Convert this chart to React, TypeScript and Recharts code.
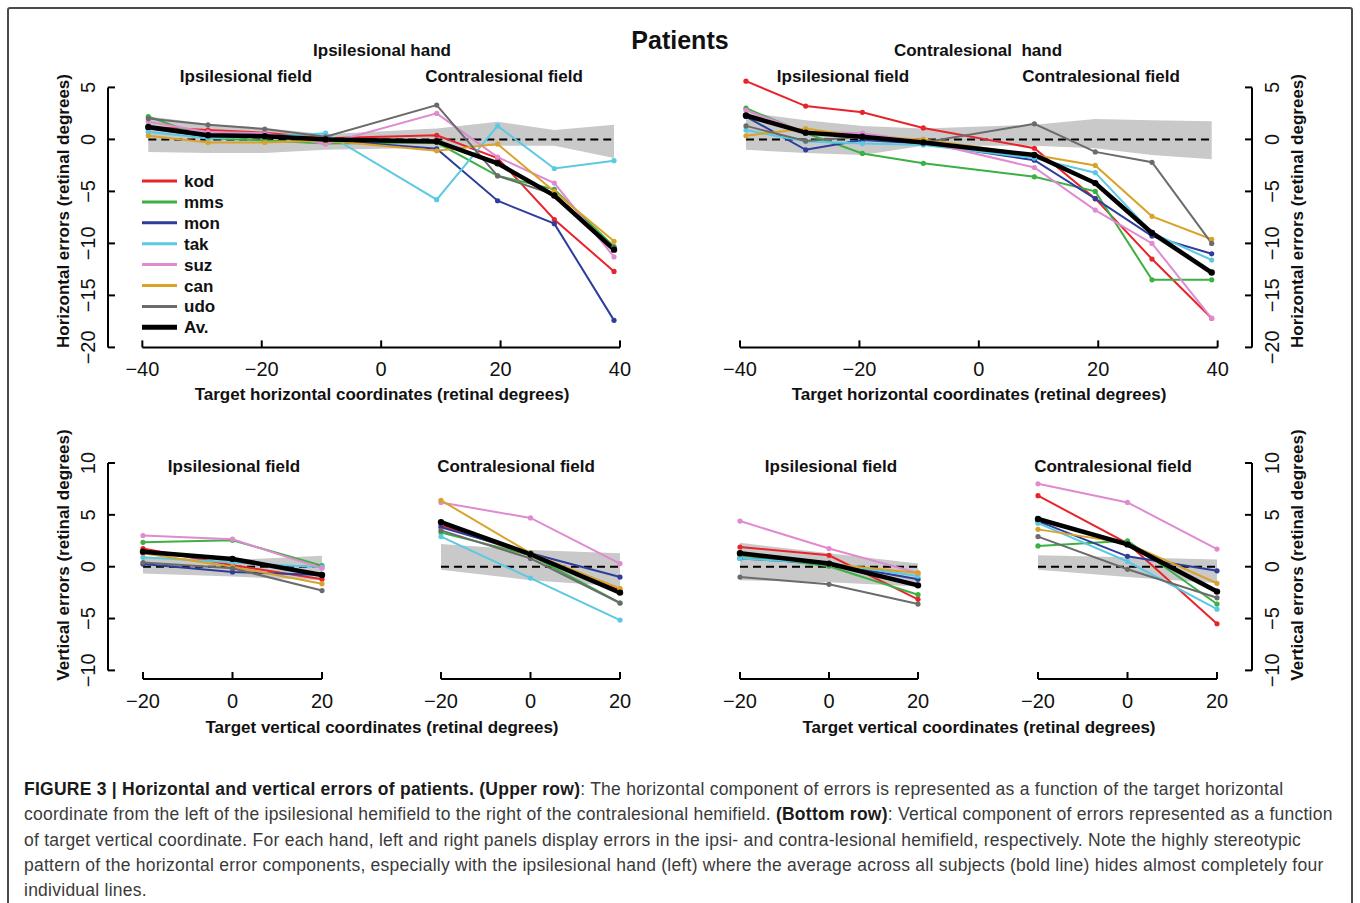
import React from "react";
import { ComposedChart, Line, Area, XAxis, YAxis, ReferenceLine } from "recharts";

const FONT = '"Liberation Sans", Arial, Helvetica, sans-serif';

// subjects, in legend order (last one is the group average)
const subjectKeys = ["kod", "mms", "mon", "tak", "suz", "can", "udo", "av"];
const subjectLabels = ["kod", "mms", "mon", "tak", "suz", "can", "udo", "Av."];
const subjectColors = ["#e8242b", "#3bb043", "#2c3d9c", "#5cc9e2", "#e08ad0", "#d9a32a", "#6b6b6b", "#000000"];

// target positions (retinal degrees)
const horizTargets = [-39, -29, -19.5, -9.3, 9.3, 19.5, 29, 39];
const vertTargets = [-20, 0, 20];

const horizTicks = [-40, -20, 0, 20, 40];
const horizErrTicks = [-20, -15, -10, -5, 0, 5];
const vertTicks = [-20, 0, 20];
const vertErrTicks = [-10, -5, 0, 5, 10];

// --- upper row: horizontal errors (rows follow subjectKeys) ---
const ipsiHandHoriz = [
  [1.2, 0.9, 0.65, 0.1, 0.4, -1.8, -7.7, -12.7],
  [2.2, 0.1, -0.1, -0.4, -0.3, -3.5, -4.8, -10.3],
  [1.05, 0.25, 0.5, -0.05, -0.9, -5.9, -8.1, -17.4],
  [0.7, 0.1, 0.25, 0.6, -5.8, 1.3, -2.8, -2.05],
  [1.7, 0.7, 0.6, -0.45, 2.5, -1.7, -4.2, -11.3],
  [0.35, -0.3, -0.3, -0.1, -1.1, -0.45, -5.0, -9.8],
  [2.0, 1.4, 1.0, 0.25, 3.3, -3.5, -5.3, -10.4],
  [1.2, 0.4, 0.3, 0.0, -0.2, -2.3, -5.4, -10.6],
];
const ipsiHandHorizLow = [-1.2, -1.3, -1.3, -1.0, -0.8, -0.6, -0.6, -1.8];
const ipsiHandHorizHigh = [2.2, 1.5, 1.1, 0.5, 1.05, 1.7, 0.9, 1.4];

const contraHandHoriz = [
  [5.6, 3.2, 2.6, 1.1, -0.85, -5.7, -11.5, -17.2],
  [3.0, 0.6, -1.35, -2.3, -3.6, -5.0, -13.5, -13.5],
  [2.2, -1.0, -0.05, -0.4, -2.0, -5.7, -9.3, -11.0],
  [0.9, -0.2, -0.4, -0.55, -1.8, -3.2, -9.0, -11.6],
  [2.8, 0.7, 0.6, -0.2, -2.7, -6.8, -10.0, -17.2],
  [0.35, 1.05, 0.25, 0.0, -1.5, -2.5, -7.4, -9.6],
  [1.3, -0.15, 0.25, -0.3, 1.5, -1.2, -2.2, -10.0],
  [2.3, 0.65, 0.25, -0.3, -1.5, -4.2, -9.0, -12.8],
];
const contraHandHorizLow = [-1.0, -1.3, -1.5, -0.6, -0.6, -0.85, -1.5, -1.9];
const contraHandHorizHigh = [2.6, 1.85, 1.3, 1.05, 1.4, 1.95, 1.85, 1.75];

// --- bottom row: vertical errors ---
const ipsiHandIpsiField = [
  [1.75, 0.15, -1.2],
  [2.35, 2.55, 0.1],
  [0.25, -0.5, -0.8],
  [0.9, 0.4, -0.05],
  [3.0, 2.65, -0.15],
  [1.3, 0.0, -1.65],
  [0.4, -0.15, -2.3],
  [1.45, 0.75, -0.8],
];
const ipsiHandIpsiFieldLow = [-0.65, -0.95, -1.3];
const ipsiHandIpsiFieldHigh = [0.95, 0.65, 1.05];

const ipsiHandContraField = [
  [4.0, 1.1, -2.25],
  [3.3, 1.1, -3.5],
  [3.8, 1.3, -1.0],
  [2.9, -1.1, -5.15],
  [6.2, 4.7, 0.3],
  [6.4, 1.3, -2.1],
  [3.5, 0.8, -3.5],
  [4.3, 1.2, -2.5],
];
const ipsiHandContraFieldLow = [-0.3, -1.3, -1.9];
const ipsiHandContraFieldHigh = [2.2, 1.6, 1.3];

const contraHandIpsiField = [
  [1.9, 1.1, -3.15],
  [1.1, 0.05, -2.7],
  [0.8, 0.3, -1.2],
  [0.8, 0.3, -0.9],
  [4.4, 1.75, -0.6],
  [1.3, 0.25, -0.6],
  [-1.0, -1.7, -3.6],
  [1.3, 0.3, -1.8],
];
const contraHandIpsiFieldLow = [-1.3, -1.5, -1.9];
const contraHandIpsiFieldHigh = [2.3, 1.3, 0.3];

const contraHandContraField = [
  [6.85, 2.25, -5.5],
  [2.0, 2.5, -3.6],
  [4.4, 1.0, -0.4],
  [4.2, 0.5, -4.1],
  [8.0, 6.2, 1.7],
  [3.6, 2.25, -1.6],
  [2.9, -0.25, -3.0],
  [4.6, 2.15, -2.4],
];
const contraHandContraFieldLow = [-0.3, -1.0, -1.6];
const contraHandContraFieldHigh = [1.1, 0.9, 0.7];

function buildRows(xs: number[], series: number[][], low: number[], high: number[]) {
  return xs.map((x, i) => {
    const row: any = { x, band: [low[i], high[i]] };
    subjectKeys.forEach((k, s) => {
      row[k] = series[s][i];
    });
    return row;
  });
}

const fmt = (v: number) => (v < 0 ? "\u2212" + Math.abs(v) : String(v));

const XTick = (props: any) => {
  const { x, y, payload } = props;
  return (
    <g>
      <line x1={x} x2={x} y1={y} y2={y - 7} stroke="#000" strokeWidth={2} />
      <text x={x} y={y + 29} textAnchor="middle" fontSize={20} fontFamily={FONT} fill="#111">
        {fmt(payload.value)}
      </text>
    </g>
  );
};

const YTickLeft = (props: any) => {
  const { x, y, payload } = props;
  return (
    <g>
      <line x1={x} x2={x + 7} y1={y} y2={y} stroke="#000" strokeWidth={2} />
      <text x={x - 13} y={y} transform={`rotate(-90 ${x - 13} ${y})`} textAnchor="middle" fontSize={20} fontFamily={FONT} fill="#111">
        {fmt(payload.value)}
      </text>
    </g>
  );
};

const YTickRight = (props: any) => {
  const { x, y, payload } = props;
  return (
    <g>
      <line x1={x} x2={x - 7} y1={y} y2={y} stroke="#000" strokeWidth={2} />
      <text x={x + 27} y={y} transform={`rotate(-90 ${x + 27} ${y})`} textAnchor="middle" fontSize={20} fontFamily={FONT} fill="#111">
        {fmt(payload.value)}
      </text>
    </g>
  );
};

type PanelProps = {
  plotLeft: number;
  plotTop: number;
  plotW: number;
  plotH: number;
  xDomain: [number, number];
  xTicks: number[];
  xs: number[];
  yDomain: [number, number];
  yTicks: number[];
  side: "left" | "right" | "none";
  rows: any[];
};

function Panel(p: PanelProps) {
  const m = { top: 15, right: 25, bottom: 0, left: 25 };
  const yw = 45;
  const lw = p.side === "left" ? yw : 0;
  const rw = p.side === "right" ? yw : 0;
  const width = m.left + lw + p.plotW + rw + m.right;
  const height = m.top + p.plotH + 45;
  const axisX = p.side === "right" ? p.xDomain[1] : p.xDomain[0];
  const yLo = p.yTicks[0];
  const yHi = p.yTicks[p.yTicks.length - 1];
  return (
    <div style={{ position: "absolute", left: p.plotLeft - m.left - lw, top: p.plotTop - m.top }}>
      <ComposedChart width={width} height={height} data={p.rows} margin={m}>
        <XAxis
          type="number"
          dataKey="x"
          domain={p.xDomain}
          ticks={p.xTicks}
          interval={0}
          axisLine={false}
          tickLine={false}
          tickSize={0}
          tickMargin={0}
          height={45}
          tick={(t: any) => <XTick {...t} />}
        />
        {p.side === "none" ? (
          <YAxis type="number" hide domain={p.yDomain} />
        ) : (
          <YAxis
            type="number"
            orientation={p.side}
            domain={p.yDomain}
            ticks={p.yTicks}
            interval={0}
            width={yw}
            axisLine={false}
            tickLine={false}
            tickSize={0}
            tickMargin={0}
            tick={(t: any) => (p.side === "left" ? <YTickLeft {...t} /> : <YTickRight {...t} />)}
          />
        )}
        <Area
          type="linear"
          dataKey="band"
          fill="#c9c9c9"
          fillOpacity={1}
          stroke="none"
          dot={false}
          activeDot={false}
          isAnimationActive={false}
        />
        <ReferenceLine
          segment={[
            { x: p.xTicks[0], y: p.yDomain[0] },
            { x: p.xTicks[p.xTicks.length - 1], y: p.yDomain[0] },
          ]}
          stroke="#000"
          strokeWidth={2}
          ifOverflow="visible"
        />
        {p.side !== "none" && (
          <ReferenceLine
            segment={[
              { x: axisX, y: yLo },
              { x: axisX, y: yHi },
            ]}
            stroke="#000"
            strokeWidth={2}
            ifOverflow="visible"
          />
        )}
        <ReferenceLine
          segment={[
            { x: p.xs[0], y: 0 },
            { x: p.xs[p.xs.length - 1], y: 0 },
          ]}
          stroke="#000"
          strokeWidth={2}
          strokeDasharray="8 5"
          ifOverflow="visible"
        />
        {subjectKeys.map((k, i) => {
          const avg = k === "av";
          return (
            <Line
              key={k}
              type="linear"
              dataKey={k}
              stroke={subjectColors[i]}
              strokeWidth={avg ? 4.5 : 2}
              dot={{ r: avg ? 3.2 : 2.6, fill: subjectColors[i], stroke: "none" }}
              activeDot={false}
              isAnimationActive={false}
            />
          );
        })}
      </ComposedChart>
    </div>
  );
}

const Txt = ({ x, y, size = 17, bold = true, rotate = false, children }: any) => (
  <div
    style={{
      position: "absolute",
      left: x,
      top: y,
      transform: `translate(-50%, -50%)${rotate ? " rotate(-90deg)" : ""}`,
      fontSize: size,
      fontWeight: bold ? 700 : 400,
      lineHeight: 1,
      whiteSpace: "nowrap",
      fontFamily: FONT,
      color: "#111",
    }}
  >
    {children}
  </div>
);

const captionLines = [
  [
    ["FIGURE 3 | Horizontal and vertical errors of patients. (Upper row)", true],
    [": The horizontal component of errors is represented as a function of the target horizontal", false],
  ],
  [
    ["coordinate from the left of the ipsilesional hemifield to the right of the contralesional hemifield. ", false],
    ["(Bottom row)", true],
    [": Vertical component of errors represented as a function", false],
  ],
  [["of target vertical coordinate. For each hand, left and right panels display errors in the ipsi- and contra-lesional hemifield, respectively. Note the highly stereotypic", false]],
  [["pattern of the horizontal error components, especially with the ipsilesional hand (left) where the average across all subjects (bold line) hides almost completely four", false]],
  [["individual lines.", false]],
];

export default function App() {
  // upper panels: the plot area reaches 1 unit above the top tick (5) so no point is clipped
  const topTop = 87 - 10.4;
  const topH = 260 + 10.4;
  const botTop = 463;
  const botH = 216;
  return (
    <div style={{ position: "relative", width: 1360, height: 903, overflow: "hidden", background: "#fff", fontFamily: FONT }}>
      <style>{"body{margin:0}"}</style>
      <div
        style={{
          position: "absolute",
          left: 7,
          top: 7,
          width: 1346,
          height: 920,
          border: "2px solid #4a4a4a",
          borderRadius: 3,
          boxSizing: "border-box",
        }}
      />

      <Panel
        plotLeft={108}
        plotTop={topTop}
        plotW={512}
        plotH={topH}
        xDomain={[-45.75, 40]}
        xTicks={horizTicks}
        xs={horizTargets}
        yDomain={[-20, 6]}
        yTicks={horizErrTicks}
        side="left"
        rows={buildRows(horizTargets, ipsiHandHoriz, ipsiHandHorizLow, ipsiHandHorizHigh)}
      />
      <Panel
        plotLeft={740}
        plotTop={topTop}
        plotW={512}
        plotH={topH}
        xDomain={[-40, 45.75]}
        xTicks={horizTicks}
        xs={horizTargets}
        yDomain={[-20, 6]}
        yTicks={horizErrTicks}
        side="right"
        rows={buildRows(horizTargets, contraHandHoriz, contraHandHorizLow, contraHandHorizHigh)}
      />
      <Panel
        plotLeft={108}
        plotTop={botTop}
        plotW={214}
        plotH={botH}
        xDomain={[-27.82, 20]}
        xTicks={vertTicks}
        xs={vertTargets}
        yDomain={[-10.83, 10]}
        yTicks={vertErrTicks}
        side="left"
        rows={buildRows(vertTargets, ipsiHandIpsiField, ipsiHandIpsiFieldLow, ipsiHandIpsiFieldHigh)}
      />
      <Panel
        plotLeft={441}
        plotTop={botTop}
        plotW={179}
        plotH={botH}
        xDomain={[-20, 20]}
        xTicks={vertTicks}
        xs={vertTargets}
        yDomain={[-10.83, 10]}
        yTicks={vertErrTicks}
        side="none"
        rows={buildRows(vertTargets, ipsiHandContraField, ipsiHandContraFieldLow, ipsiHandContraFieldHigh)}
      />
      <Panel
        plotLeft={740}
        plotTop={botTop}
        plotW={178}
        plotH={botH}
        xDomain={[-20, 20]}
        xTicks={vertTicks}
        xs={vertTargets}
        yDomain={[-10.83, 10]}
        yTicks={vertErrTicks}
        side="none"
        rows={buildRows(vertTargets, contraHandIpsiField, contraHandIpsiFieldLow, contraHandIpsiFieldHigh)}
      />
      <Panel
        plotLeft={1038}
        plotTop={botTop}
        plotW={214}
        plotH={botH}
        xDomain={[-20, 27.82]}
        xTicks={vertTicks}
        xs={vertTargets}
        yDomain={[-10.83, 10]}
        yTicks={vertErrTicks}
        side="right"
        rows={buildRows(vertTargets, contraHandContraField, contraHandContraFieldLow, contraHandContraFieldHigh)}
      />

      {/* legend */}
      <svg style={{ position: "absolute", left: 130, top: 168, overflow: "visible" }} width={120} height={170}>
        {subjectLabels.map((lab, i) => {
          const y = 13 + i * 20.9;
          return (
            <g key={lab}>
              <line x1={12} x2={47} y1={y} y2={y} stroke={subjectColors[i]} strokeWidth={i === 7 ? 5 : 3} />
              <text x={54} y={y + 6} fontSize={17} fontWeight={700} fontFamily={FONT} fill="#111">
                {lab}
              </text>
            </g>
          );
        })}
      </svg>

      {/* titles */}
      <Txt x={680} y={40} size={25}>Patients</Txt>
      <Txt x={382} y={50}>Ipsilesional hand</Txt>
      <Txt x={978} y={50}>Contralesional&nbsp; hand</Txt>
      <Txt x={246} y={76}>Ipsilesional field</Txt>
      <Txt x={504} y={76}>Contralesional field</Txt>
      <Txt x={843} y={76}>Ipsilesional field</Txt>
      <Txt x={1101} y={76}>Contralesional field</Txt>
      <Txt x={234} y={466}>Ipsilesional field</Txt>
      <Txt x={516} y={466}>Contralesional field</Txt>
      <Txt x={831} y={466}>Ipsilesional field</Txt>
      <Txt x={1113} y={466}>Contralesional field</Txt>

      {/* axis titles */}
      <Txt x={382} y={394}>Target horizontal coordinates (retinal degrees)</Txt>
      <Txt x={979} y={394}>Target horizontal coordinates (retinal degrees)</Txt>
      <Txt x={382} y={727}>Target vertical coordinates (retinal degrees)</Txt>
      <Txt x={979} y={727}>Target vertical coordinates (retinal degrees)</Txt>
      <Txt x={63} y={211} rotate>Horizontal errors (retinal degrees)</Txt>
      <Txt x={1297} y={211} rotate>Horizontal errors (retinal degrees)</Txt>
      <Txt x={63} y={555} rotate>Vertical errors (retinal degrees)</Txt>
      <Txt x={1297} y={555} rotate>Vertical errors (retinal degrees)</Txt>

      {/* caption */}
      <div
        style={{
          position: "absolute",
          left: 24,
          top: 777,
          fontSize: 17.5,
          letterSpacing: 0.25,
          lineHeight: "25.3px",
          color: "#3a3a3a",
          fontFamily: FONT,
        }}
      >
        {captionLines.map((parts, i) => (
          <div key={i} style={{ whiteSpace: "nowrap" }}>
            {parts.map(([t, b], j) => (
              <span key={j} style={b ? { fontWeight: 700, color: "#1a1a1a" } : undefined}>
                {t as string}
              </span>
            ))}
          </div>
        ))}
      </div>
    </div>
  );
}
